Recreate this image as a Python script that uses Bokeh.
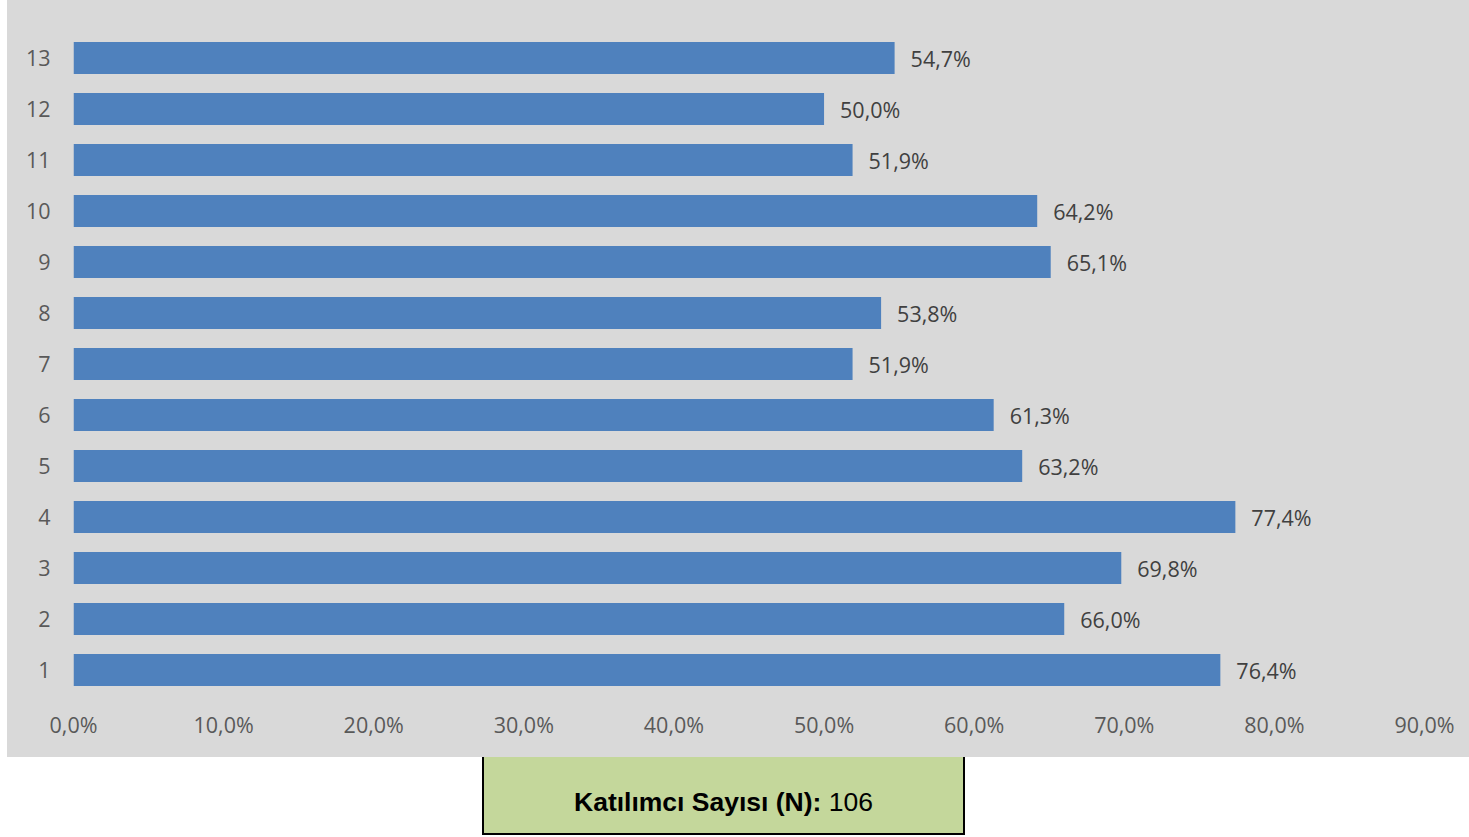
from bokeh.plotting import figure
from bokeh.models import Range1d, FactorRange, FixedTicker, CustomJSTickFormatter, ColumnDataSource, Div
from bokeh.layouts import column
from bokeh.core.properties import value
from bokeh.embed import file_html
from bokeh.resources import INLINE

categories = [str(i) for i in range(1, 14)]
values = [76.4, 66.0, 69.8, 77.4, 63.2, 61.3, 51.9, 53.8, 65.1, 64.2, 51.9, 50.0, 54.7]
x_ticks = [0, 10, 20, 30, 40, 50, 60, 70, 80, 90]
box_label_bold = "Katılımcı Sayısı (N):"
box_value = "106"

labels = [("%.1f" % v).replace(".", ",") + "%" for v in values]
src = ColumnDataSource(dict(cat=categories, val=values, lab=labels))

GRAY = "#D9D9D9"
p = figure(width=1462, height=757, y_range=FactorRange(*categories, range_padding=0),
           x_range=Range1d(0, 90), output_backend="svg", toolbar_location=None,
           min_border_left=66, min_border_right=45, min_border_top=32, min_border_bottom=62,
           margin=(0, 0, 0, 7), styles={"background-color": GRAY})
p.background_fill_color = GRAY
p.border_fill_color = GRAY
p.outline_line_color = None
p.grid.grid_line_color = None

p.hbar(y="cat", right="val", left=0, height=0.63, source=src,
       fill_color="#4F81BD", line_color=None)
p.text(x="val", y="cat", text="lab", source=src, x_offset=16,
       text_align="left", text_baseline="middle", text_color="#404040",
       text_font=value("Open Sans"), text_font_size="21.5px")

for ax in (p.xaxis[0], p.yaxis[0]):
    ax.axis_line_color = None
    ax.major_tick_line_color = None
    ax.minor_tick_line_color = None
    ax.major_tick_out = 0
    ax.major_tick_in = 0
    ax.minor_tick_out = 0
    ax.major_label_text_color = "#595959"
    ax.major_label_text_font = "Open Sans"
    ax.major_label_text_font_size = "21.5px"

p.xaxis.ticker = FixedTicker(ticks=x_ticks)
p.xaxis.formatter = CustomJSTickFormatter(code="return tick.toFixed(1).replace('.', ',') + '%';")
p.xaxis.major_label_standoff = 14
p.yaxis.major_label_standoff = 23

box_html = (
    '<div style="position:relative;width:1469px;height:80px;">'
    '<div style="position:absolute;left:482px;top:0px;width:483px;height:78px;'
    'background:#C4D79B;border-left:2px solid #000;border-right:2px solid #000;'
    'border-bottom:2px solid #000;text-align:center;font-family:\'Liberation Sans\',Arial,sans-serif;'
    'font-size:26.5px;color:#000;line-height:30px;padding-top:30px;box-sizing:border-box;">'
    '<b>' + box_label_bold + '</b> ' + box_value +
    '</div></div>'
)
d = Div(text=box_html, width=1469, height=80, margin=(0, 0, 0, 0))

layout = column(p, d, spacing=0)
open("out.html", "w").write(file_html(layout, INLINE))
